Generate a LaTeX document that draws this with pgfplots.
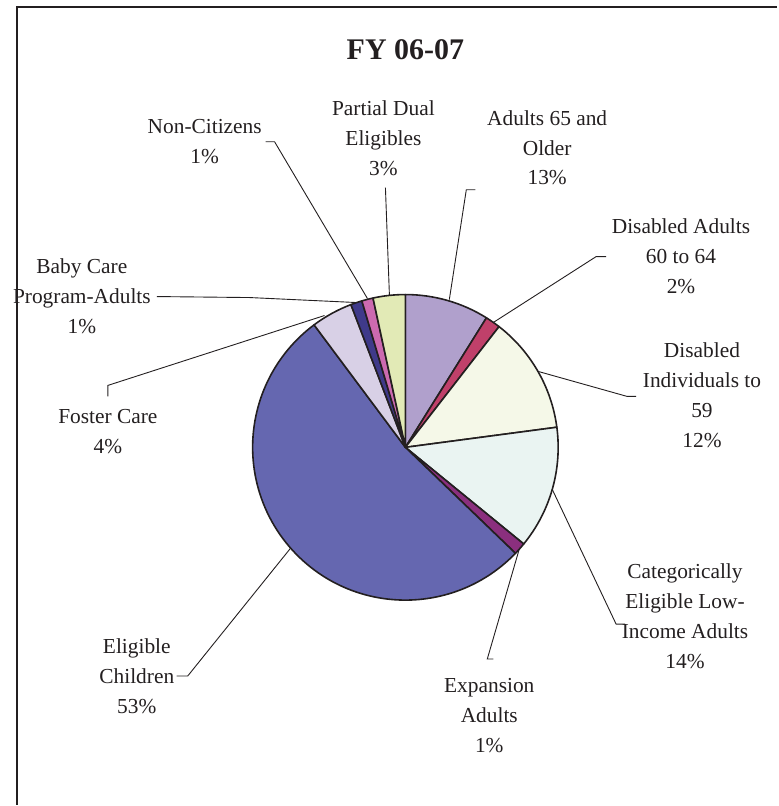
\documentclass[border=0pt]{standalone}
\usepackage{pgfplots}
\pgfplotsset{compat=1.18}
\usepackage{pgfplotstable}
\usepackage{fontspec}
\setmainfont{Liberation Serif}

\definecolor{pie0}{HTML}{B0A0CC}
\definecolor{pie1}{HTML}{C0406A}
\definecolor{pie2}{HTML}{F5F8E8}
\definecolor{pie3}{HTML}{EAF4F2}
\definecolor{pie4}{HTML}{8B2F7E}
\definecolor{pie5}{HTML}{6567B0}
\definecolor{pie6}{HTML}{D8D0E6}
\definecolor{pie7}{HTML}{3F3A8A}
\definecolor{pie8}{HTML}{CC6AB0}
\definecolor{pie9}{HTML}{E2EAB6}
\definecolor{ink}{HTML}{231F20}

% slice shares (percent of the full circle), clockwise from 12 o'clock
\pgfplotstableread{
name value
Adults65 8.9
Disabled6064 1.6
Disabled59 12.4
Categorical 13.0
Expansion 1.3
Children 52.6
Foster 4.4
BabyCare 1.2
NonCitizens 1.2
PartialDual 3.4
}\pietable

\gdef\cum{0}%
\foreach \i in {0,...,9}{%
  \pgfplotstablegetelem{\i}{value}\of\pietable%
  \pgfmathsetmacro\s{90-3.6*\cum}%
  \pgfmathsetmacro\newcum{\cum+\pgfplotsretval}%
  \pgfmathsetmacro\e{90-3.6*\newcum}%
  \expandafter\xdef\csname ps\i\endcsname{\s}%
  \expandafter\xdef\csname pe\i\endcsname{\e}%
  \xdef\cum{\newcum}%
}%

\begin{document}
\begin{tikzpicture}
\begin{axis}[hide axis, scale only axis, width=389pt, height=403pt,
  xmin=0, xmax=778, ymin=0, ymax=806, clip=false]
\path (axis cs:0,0) rectangle (axis cs:778,806);
% frame
\draw[ink, line width=1.2pt] (axis cs:17,0) -- (axis cs:17,799) -- (axis cs:778,799);
% pie
\pgfplotsinvokeforeach{0,...,9}{%
  \filldraw[fill=pie#1, draw=ink, line width=0.8pt, line join=round]
    (axis cs:406,358) -- ++(\csname ps#1\endcsname:76.5pt)
    arc[start angle=\csname ps#1\endcsname, end angle=\csname pe#1\endcsname, radius=76.5pt] -- cycle;
}
% leader lines
\begin{scope}[ink, line width=0.45pt]
\draw (axis cs:266,664) -- (axis cs:275,664) -- (axis cs:368,507);
\draw (axis cs:386,618) -- (axis cs:390,510);
\draw (axis cs:476,616) -- (axis cs:467,616) -- (axis cs:450,506);
\draw (axis cs:607,549) -- (axis cs:597,549) -- (axis cs:494,483);
\draw (axis cs:637,409) -- (axis cs:628,409) -- (axis cs:539,434);
\draw (axis cs:553,316) -- (axis cs:617,181) -- (axis cs:626,181);
\draw (axis cs:520,256) -- (axis cs:488,146) -- (axis cs:494,146);
\draw (axis cs:291,257) -- (axis cs:188,129) -- (axis cs:177,129);
\draw (axis cs:108,409) -- (axis cs:108,420) -- (axis cs:325,490);
\draw (axis cs:157,509) -- (axis cs:250,508) -- (axis cs:357,503);
\end{scope}
% labels
\begin{scope}[every node/.style={align=center, inner sep=0pt, text=ink, font=\fontsize{10.7}{15}\selectfont}]
\node at (axis cs:406,756) {\fontsize{15}{18}\selectfont\bfseries FY 06-07};
\node at (axis cs:205,664) {Non-Citizens\\1\%};
\node at (axis cs:384,668) {Partial Dual\\Eligibles\\3\%};
\node at (axis cs:548,658) {Adults 65 and\\Older\\13\%};
\node at (axis cs:682,549) {Disabled Adults\\60 to 64\\2\%};
\node at (axis cs:703,410) {Disabled\\Individuals to\\59\\12\%};
\node at (axis cs:686,189) {Categorically\\Eligible Low-\\Income Adults\\14\%};
\node at (axis cs:490,89) {Expansion\\Adults\\1\%};
\node at (axis cs:137,129) {Eligible\\Children\\53\%};
\node at (axis cs:108,374) {Foster Care\\4\%};
\node at (axis cs:82,509) {Baby Care\\Program-Adults\\1\%};
\end{scope}
\end{axis}
\end{tikzpicture}
\end{document}
